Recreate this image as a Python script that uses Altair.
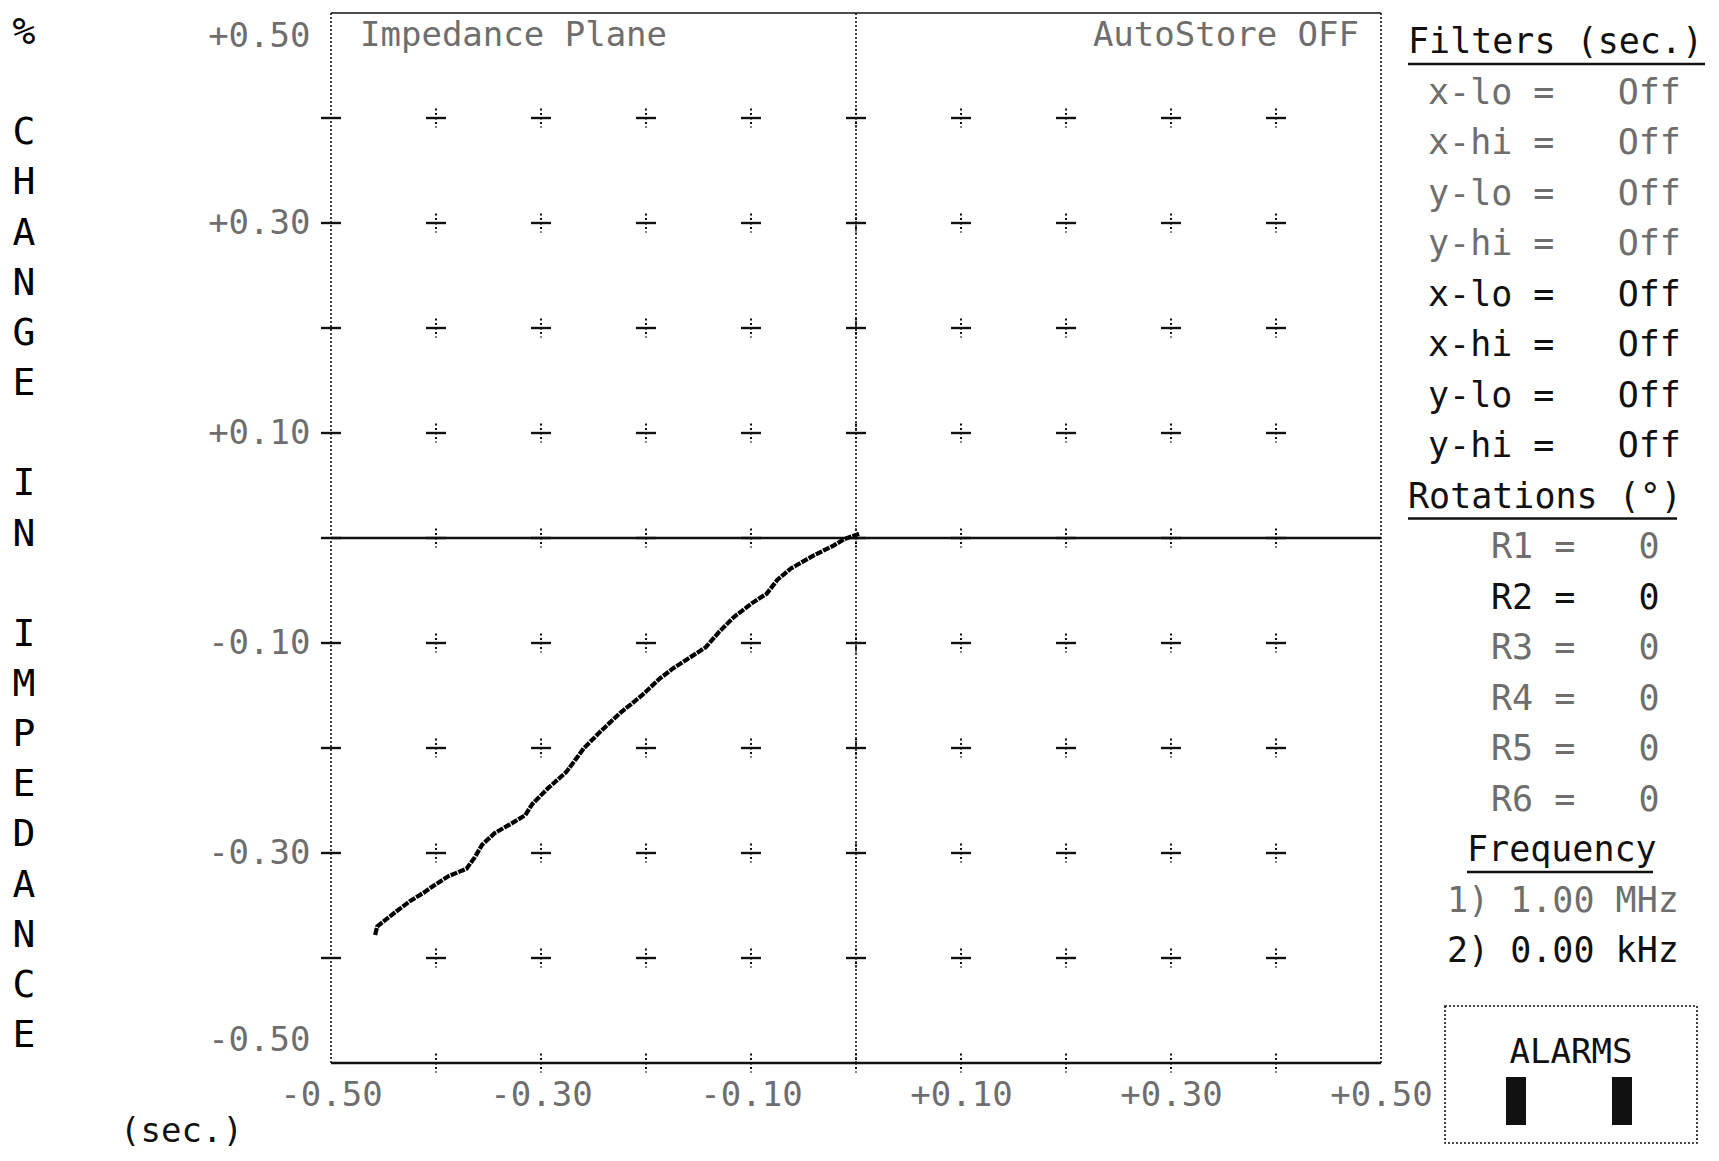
import altair as alt
import pandas as pd

# ---------------- data ----------------
CURVE_X = [-0.458, -0.456, -0.446, -0.437, -0.425, -0.412, -0.402, -0.388, -0.371, -0.363,
           -0.356, -0.344, -0.330, -0.315, -0.308, -0.293, -0.276, -0.259, -0.242, -0.225,
           -0.204, -0.187, -0.174, -0.160, -0.143, -0.130, -0.116, -0.099, -0.085, -0.075,
           -0.062, -0.041, -0.021, -0.011, 0.003]
CURVE_Y = [-0.378, -0.370, -0.362, -0.355, -0.346, -0.338, -0.331, -0.322, -0.315, -0.304,
           -0.292, -0.281, -0.273, -0.264, -0.253, -0.238, -0.223, -0.200, -0.183, -0.167,
           -0.150, -0.134, -0.124, -0.115, -0.104, -0.089, -0.075, -0.062, -0.053, -0.040,
           -0.029, -0.017, -0.007, -0.001, 0.004]

GRID_STEPS = [-0.4, -0.3, -0.2, -0.1, 0.0, 0.1, 0.2, 0.3, 0.4]
LABEL_TICKS = [-0.5, -0.3, -0.1, 0.1, 0.3, 0.5]
FRAME_X = [-0.5, 0.0, 0.5]

Y_TITLE = ["%", "", "C", "H", "A", "N", "G", "E", "", "I", "N", "",
           "I", "M", "P", "E", "D", "A", "N", "C", "E"]
X_TITLE = "(sec.)"
PLOT_TITLE = "Impedance Plane"
STATUS_TEXT = "AutoStore OFF"
ALARM_TEXT = "ALARMS"

PANEL_TEXT = ["Filters (sec.)",
              "x-lo =   Off", "x-hi =   Off", "y-lo =   Off", "y-hi =   Off",
              "x-lo =   Off", "x-hi =   Off", "y-lo =   Off", "y-hi =   Off",
              "Rotations (°)",
              "R1 =   0", "R2 =   0", "R3 =   0", "R4 =   0", "R5 =   0", "R6 =   0",
              "Frequency",
              "1) 1.00 MHz", "2) 0.00 kHz"]
PANEL_TONE = ["ink",
              "dim", "dim", "dim", "dim",
              "ink", "ink", "ink", "ink",
              "ink",
              "dim", "ink", "dim", "dim", "dim", "dim",
              "ink",
              "dim", "ink"]
PANEL_KIND = ["head", "filt", "filt", "filt", "filt", "filt", "filt", "filt", "filt",
              "head", "rot", "rot", "rot", "rot", "rot", "rot", "freqhead", "freq", "freq"]

# ---------------- layout / style ----------------
W = H = 1050
FONT = "DejaVu Sans Mono"
GRAY = "#6e6e6e"
INK = "#111111"
FS = 34
ROW_Y0 = 29
ROW_PITCH = 50.5
KIND_X = {"head": 1077, "filt": 1097, "rot": 1160, "freqhead": 1136, "freq": 1116}
UNDERLINES = {"Filters (sec.)": (1077, 1374), "Rotations (°)": (1077, 1346), "Frequency": (1136, 1322)}
YT_X, YT_Y0, YT_PITCH = -307, 20, 50.15
NBSP = "\u00a0"

xs = alt.Scale(domain=[-0.5, 0.5], nice=False, zero=False)
ys = alt.Scale(domain=[-0.5, 0.5], nice=False, zero=False)

label_expr = "(datum.value > 0 ? '+' : '-') + format(abs(datum.value), '.2f')"

x_axis = alt.Axis(values=LABEL_TICKS, labelExpr=label_expr, ticks=False, domain=False, grid=False,
                  labelFont=FONT, labelFontSize=FS, labelColor=GRAY, labelPadding=15,
                  labelFlush=False, labelOverlap=False,
                  title=X_TITLE, titleX=-150, titleY=68, titleFont=FONT, titleFontSize=FS,
                  titleFontWeight="normal", titleColor=INK, titleAlign="center",
                  titleBaseline="middle", titleAngle=0)
y_axis = alt.Axis(values=LABEL_TICKS, labelExpr=label_expr, ticks=False, domain=False, grid=False,
                  labelFont=FONT, labelFontSize=FS, labelColor=GRAY, labelPadding=21,
                  labelFlush=True, labelFlushOffset=-6, labelOverlap=False, title=None)


def X(field="x"):
    return alt.X(f"{field}:Q", scale=xs, axis=x_axis)


def Y(field="y"):
    return alt.Y(f"{field}:Q", scale=ys, axis=y_axis)


one = pd.DataFrame({"k": [0]})

# frame: vertical dotted lines
vlines = alt.Chart(pd.DataFrame({"x": FRAME_X})).mark_rule(
    color=INK, strokeWidth=1.6, strokeDash=[2, 2]
).encode(x=X())

top_line = alt.Chart(pd.DataFrame({"y": [0.5]})).mark_rule(color=INK, strokeWidth=1.6).encode(y=Y())
mid_lines = alt.Chart(pd.DataFrame({"y": [0.0, -0.5]})).mark_rule(color=INK, strokeWidth=2.6).encode(y=Y())

grid_df = pd.DataFrame([(gx, gy) for gx in GRID_STEPS for gy in GRID_STEPS], columns=["x", "y"])
left_df = pd.DataFrame({"x": [-0.5] * len(GRID_STEPS), "y": GRID_STEPS})
bottom_df = pd.DataFrame({"x": GRID_STEPS, "y": [-0.5] * len(GRID_STEPS)})

hbars = alt.Chart(pd.concat([grid_df, left_df], ignore_index=True)).mark_point(
    shape="M-1,0L1,0", size=400, stroke=INK, strokeWidth=2.4, filled=False, opacity=1
).encode(x=X(), y=Y())

vbars = alt.Chart(pd.concat([grid_df, bottom_df], ignore_index=True)).mark_point(
    shape="M0,-1L0,1", size=361, stroke=INK, strokeWidth=2.0, strokeDash=[2, 2.5],
    filled=False, opacity=1
).encode(x=X(), y=Y())

curve = alt.Chart(pd.DataFrame({"x": CURVE_X, "y": CURVE_Y, "i": range(len(CURVE_X))})).mark_line(
    color="#000000", strokeWidth=4.2, strokeDash=[7, 1.2]
).encode(x=X(), y=Y(), order="i:Q")

layers = [vlines, top_line, mid_lines, hbars, vbars, curve]


def text_layer(txt, x, y, color, align="left", size=FS, weight="normal"):
    return alt.Chart(one).mark_text(
        text=txt.replace(" ", NBSP), font=FONT, fontSize=size, color=color, align=align,
        baseline="middle", fontWeight=weight
    ).encode(x=alt.value(x), y=alt.value(y))


# vertical stacked y-axis title
for i, ch in enumerate(Y_TITLE):
    if ch:
        layers.append(text_layer(ch, YT_X, YT_Y0 + i * YT_PITCH, "#000000", align="center", size=38))

layers.append(text_layer(PLOT_TITLE, 29, 23, GRAY))
layers.append(text_layer(STATUS_TEXT, 1028, 23, GRAY, align="right"))

for i, (txt, tone, kind) in enumerate(zip(PANEL_TEXT, PANEL_TONE, PANEL_KIND)):
    y = ROW_Y0 + i * ROW_PITCH
    layers.append(text_layer(txt, KIND_X[kind], y, INK if tone == "ink" else GRAY, size=35))
    if txt in UNDERLINES:
        x0, x1 = UNDERLINES[txt]
        layers.append(alt.Chart(one).mark_rule(color=INK, strokeWidth=2.6).encode(
            x=alt.value(x0), x2=alt.value(x1), y=alt.value(y + 22)))

# alarms box
layers.append(alt.Chart(one).mark_rect(
    fillOpacity=0, stroke=INK, strokeWidth=1.6, strokeDash=[2, 2]
).encode(x=alt.value(1114), x2=alt.value(1366), y=alt.value(993), y2=alt.value(1130)))
layers.append(text_layer(ALARM_TEXT, 1240, 1040, INK, align="center"))
for bx in (1175, 1281):
    layers.append(alt.Chart(one).mark_rect(color=INK).encode(
        x=alt.value(bx), x2=alt.value(bx + 20), y=alt.value(1064), y2=alt.value(1112)))

chart = alt.layer(*layers).properties(
    width=W, height=H,
    padding={"left": 323, "top": 5, "right": 327, "bottom": 85},
    autosize=alt.AutoSizeParams(type="none"),
    background="white",
).configure_view(stroke=None)

chart.save("out.html", embed_options={"renderer": "svg", "actions": False})
